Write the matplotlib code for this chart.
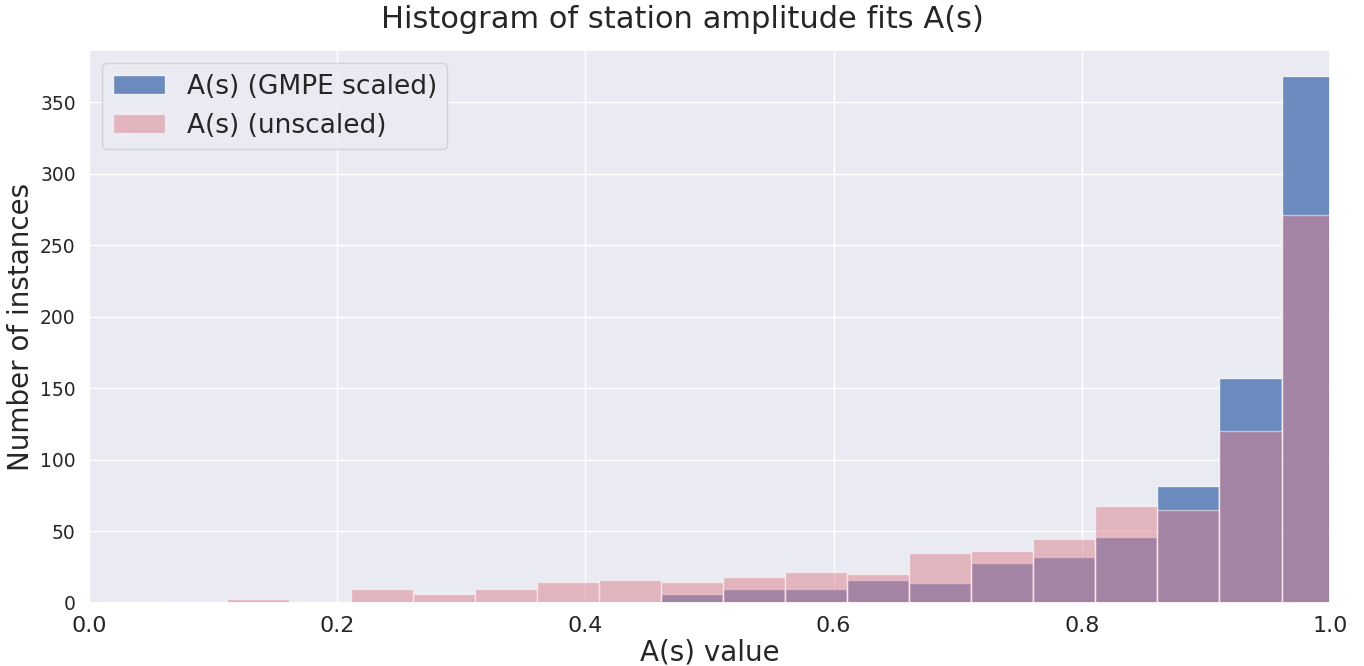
import numpy as np
import matplotlib
matplotlib.use("Agg")
import matplotlib.pyplot as plt
import seaborn as sns

sns.set_theme(style="darkgrid")
plt.rcParams['font.family'] = ['DejaVu Sans']

# shared bin edges (20 bins of width 0.05)
bin_edges = [0.011, 0.061, 0.111, 0.161, 0.211, 0.261, 0.311, 0.361, 0.411, 0.461,
             0.511, 0.561, 0.611, 0.661, 0.711, 0.761, 0.811, 0.861, 0.911, 0.961, 1.011]
counts_scaled = [0, 0, 0, 1, 0, 0, 0, 1, 1, 6,
                 10, 10, 16, 14, 28, 32, 46, 82, 157, 368]
counts_unscaled = [0, 1, 3, 0, 10, 6, 10, 15, 16, 15,
                   18, 22, 20, 35, 36, 45, 68, 65, 120, 271]

edges = np.array(bin_edges)
centers = (edges[:-1] + edges[1:]) / 2

fig = plt.figure(figsize=(13.64, 6.66), dpi=100)
ax = fig.add_axes([0.0652, 0.0946, 0.9098, 0.8304])

ax.hist(centers, bins=edges, weights=counts_scaled, color="#4c72b0", alpha=0.8,
        edgecolor="white", linewidth=1.0, label="A(s) (GMPE scaled)")
ax.hist(centers, bins=edges, weights=counts_unscaled, color="#dc7f8c", alpha=0.5,
        edgecolor="white", linewidth=1.0, label="A(s) (unscaled)")

ax.set_xlim(0, 1.0)
fig.suptitle("Histogram of station amplitude fits A(s)", fontsize=22, y=0.993)
ax.set_xlabel("A(s) value", fontsize=20, labelpad=2)
ax.set_ylabel("Number of instances", fontsize=20)
ax.tick_params(axis="x", labelsize=16)
ax.tick_params(axis="y", labelsize=13.5)
ax.legend(loc="upper left", fontsize=19)

fig.savefig("out.png", dpi=100)
